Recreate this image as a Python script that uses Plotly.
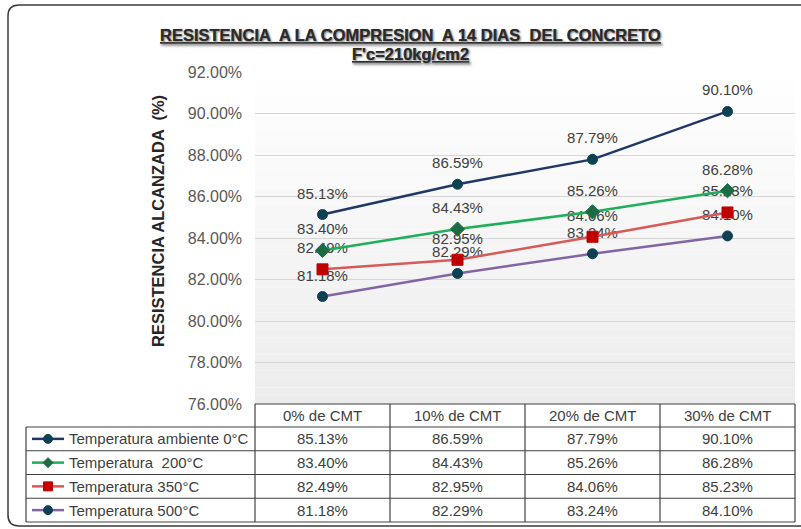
import plotly.graph_objects as go

# ---------------- data ----------------
categories = ["0% de CMT", "10% de CMT", "20% de CMT", "30% de CMT"]
series_names = ["Temperatura ambiente 0°C", "Temperatura  200°C",
                "Temperatura 350°C", "Temperatura 500°C"]
temp_ambiente = [85.13, 86.59, 87.79, 90.10]
temp_200 = [83.40, 84.43, 85.26, 86.28]
temp_350 = [82.49, 82.95, 84.06, 85.23]
temp_500 = [81.18, 82.29, 83.24, 84.10]
y_ticks = [76, 78, 80, 82, 84, 86, 88, 90, 92]
title_line1 = "RESISTENCIA  A LA COMPRESION  A 14 DIAS  DEL CONCRETO"
title_line2 = "F'c=210kg/cm2"
y_title = "RESISTENCIA ALCANZADA  (%)"

series_values = [temp_ambiente, temp_200, temp_350, temp_500]

# ---------------- styles ----------------
FONT = "Liberation Sans, Arial, sans-serif"
TXT = "#404040"
styles = [
    dict(line="#1f3864", marker="#0e4053", symbol="circle", size=10),
    dict(line="#1fae5b", marker="#1d6b45", symbol="diamond", size=11),
    dict(line="#d65a57", marker="#c00000", symbol="square", size=11),
    dict(line="#8166a3", marker="#0e4053", symbol="circle", size=10),
]

W, H = 801, 529
L, R, T, B = 255, 6, 72, 125
PW = W - L - R
PH = H - T - B


def px(x):
    return (x - L) / PW


def py(y):
    return (H - B - y) / PH


def fmt(v):
    return f"{v:.2f}%"


fig = go.Figure()

# draw series in reverse order so later (upper) series cover lower labels
for i in reversed(range(len(series_values))):
    vals = series_values[i]
    st = styles[i]
    fig.add_trace(go.Scatter(
        x=categories, y=vals, mode="markers+text",
        marker=dict(size=18, color="rgba(0,0,0,0)"),
        text=[fmt(v) for v in vals], textposition="top center",
        textfont=dict(family=FONT, size=15, color=TXT),
        hoverinfo="skip", showlegend=False, cliponaxis=False))
    fig.add_trace(go.Scatter(
        x=categories, y=vals, mode="lines+markers", name=series_names[i],
        line=dict(color=st["line"], width=2.5),
        marker=dict(symbol=st["symbol"], size=st["size"], color=st["marker"],
                    line=dict(color=st["marker"], width=1)),
        showlegend=False, cliponaxis=False))

shapes = []
# plot-area gradient background
n = 40
for k in range(n):
    f = (k + 0.5) / n
    c = int(round(255 - 19 * f))
    shapes.append(dict(type="rect", xref="paper", yref="paper", layer="below",
                       x0=0, x1=1, y0=1 - (k + 1) / n, y1=1 - k / n,
                       line=dict(width=0), fillcolor=f"rgb({c},{c},{c})"))

# outer chart border (rounded, cut by right edge)
bx0, by0, bx1, by1, rr = 8, 5, 806, 526, 11
path = (f"M {px(bx0)},{py(by0 + rr)} Q {px(bx0)},{py(by0)} {px(bx0 + rr)},{py(by0)} "
        f"L {px(bx1)},{py(by0)} L {px(bx1)},{py(by1)} L {px(bx0 + rr)},{py(by1)} "
        f"Q {px(bx0)},{py(by1)} {px(bx0)},{py(by1 - rr)} Z")
shapes.append(dict(type="path", xref="paper", yref="paper", path=path,
                   line=dict(color="#3a3a3a", width=1.5)))

# data table
LC = "#404040"
LW = 1.2
tab_left, tab_right = 26, 795
head_top, head_bot = 404, 427
row_h = 23.75
nrows = len(series_names)
col_w = (tab_right - L) / len(categories)
tab_bot = head_bot + row_h * nrows


def hline(x0, x1, y):
    shapes.append(dict(type="line", xref="paper", yref="paper",
                       x0=px(x0), x1=px(x1), y0=py(y), y1=py(y),
                       line=dict(color=LC, width=LW)))


def vline(x, y0, y1):
    shapes.append(dict(type="line", xref="paper", yref="paper",
                       x0=px(x), x1=px(x), y0=py(y0), y1=py(y1),
                       line=dict(color=LC, width=LW)))


hline(L, tab_right, head_top)
for r in range(nrows + 1):
    hline(tab_left, tab_right, head_bot + r * row_h)
vline(tab_left, head_bot, tab_bot)
for c in range(len(categories) + 1):
    vline(L + c * col_w, head_top, tab_bot)


def ann(x, y, text, font, **kw):
    d = dict(x=px(x), y=py(y), xref="paper", yref="paper", text=text,
             showarrow=False, xanchor="center", yanchor="middle", font=font)
    d.update(kw)
    return d


cell_font = dict(family=FONT, size=15, color=TXT)
annotations = []
for c, cat in enumerate(categories):
    annotations.append(ann(L + (c + 0.5) * col_w, (head_top + head_bot) / 2, cat, cell_font))

for r, (name, vals) in enumerate(zip(series_names, series_values)):
    yc = head_bot + (r + 0.5) * row_h
    st = styles[r]
    # legend key line
    shapes.append(dict(type="line", xref="paper", yref="paper",
                       x0=px(32), x1=px(64), y0=py(yc), y1=py(yc),
                       line=dict(color=st["line"], width=2.5)))
    mx = 48
    s = 4.5
    if st["symbol"] == "circle":
        shapes.append(dict(type="circle", xref="paper", yref="paper",
                           x0=px(mx - s), x1=px(mx + s), y0=py(yc + s), y1=py(yc - s),
                           fillcolor=st["marker"], line=dict(color=st["marker"], width=1)))
    elif st["symbol"] == "square":
        shapes.append(dict(type="rect", xref="paper", yref="paper",
                           x0=px(mx - s), x1=px(mx + s), y0=py(yc + s), y1=py(yc - s),
                           fillcolor=st["marker"], line=dict(color=st["marker"], width=1)))
    else:
        d = 5
        p = (f"M {px(mx)},{py(yc - d)} L {px(mx + d)},{py(yc)} L {px(mx)},{py(yc + d)} "
             f"L {px(mx - d)},{py(yc)} Z")
        shapes.append(dict(type="path", xref="paper", yref="paper", path=p,
                           fillcolor=st["marker"], line=dict(color=st["marker"], width=1)))
    annotations.append(ann(67, yc, name, cell_font, xanchor="left"))
    for c, v in enumerate(vals):
        annotations.append(ann(L + (c + 0.5) * col_w, yc, fmt(v), cell_font))

# titles
tfont = dict(family=FONT, size=16.5, color="#2b2b2b", weight="bold",
             lineposition="under", shadow="1px 1px 2px #9a9a9a")
annotations.append(ann(410, 35, title_line1, tfont))
annotations.append(ann(410, 54, title_line2, tfont))
annotations.append(ann(158, 221, y_title,
                       dict(family=FONT, size=16.5, color="#262626", weight="bold"),
                       textangle=-90))

fig.update_layout(
    width=W, height=H,
    margin=dict(l=L, r=R, t=T, b=B, pad=0, autoexpand=False),
    paper_bgcolor="white", plot_bgcolor="rgba(0,0,0,0)",
    showlegend=False,
    shapes=shapes, annotations=annotations,
    xaxis=dict(type="category", range=[-0.5, 3.5], showticklabels=False,
               showgrid=False, zeroline=False, showline=False, ticks="",
               automargin=False),
    yaxis=dict(range=[76, 92], tickvals=y_ticks, ticktext=[fmt(v) for v in y_ticks],
               showgrid=True, gridcolor="#d6d6d6", gridwidth=1, zeroline=False,
               showline=False, ticks="", ticklabelstandoff=12, automargin=False,
               tickfont=dict(family=FONT, size=16, color="#595959")),
)

fig.write_html("out.html", config={"displayModeBar": False},
               post_script="document.body.style.margin='0px';")
